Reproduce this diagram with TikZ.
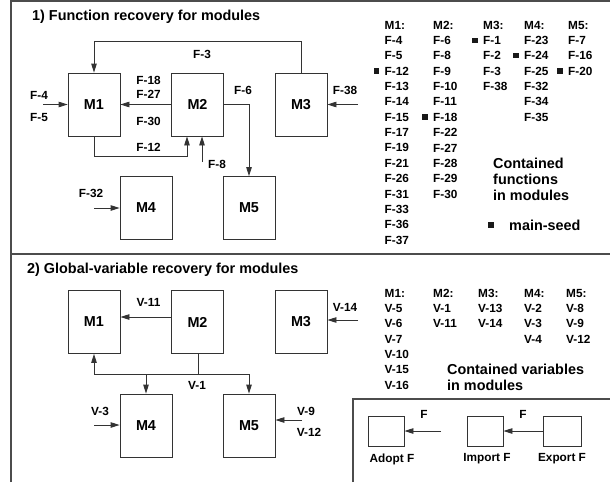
\documentclass[tikz,border=0pt]{standalone}
\usepackage{fontspec}
\setmainfont{Liberation Sans}
\usepackage{tikz}
\usetikzlibrary{arrows.meta,positioning,calc}

\begin{document}
\begin{tikzpicture}[x=1pt, y=-1pt, >={Triangle[length=9pt,width=5.5pt]},
  module/.style={draw=black!80, line width=0.8pt, minimum width=52pt, minimum height=63pt,
    inner sep=0pt, font=\fontsize{14.4}{16}\selectfont\bfseries},
  small/.style={draw=black!80, line width=0.8pt, minimum width=36pt, minimum height=30pt, inner sep=0pt},
  lbl/.style={font=\fontsize{11.8}{14}\selectfont\bfseries, inner sep=0pt},
  lst/.style={lbl, anchor=west},
  big/.style={font=\fontsize{14.4}{16}\selectfont\bfseries, inner sep=0pt},
  link/.style={draw=black!80, line width=0.8pt},
  frame/.style={draw=black!70, line width=1.3pt},
  seed/.style={fill=black!90, minimum size=5.5pt, inner sep=0pt}]
  \useasboundingbox (0,0) rectangle (610,482);

  % frame
  \draw[frame] (11,482) -- (11,1) -- (610,1);
  \draw[frame] (11,254) -- (610,254);
  \draw[frame] (353,482) -- (353,399) -- (610,399);

  % ---------- 1) functions ----------
  \node[big, anchor=west] (t1) at (32,17) {1) Function recovery for modules};

  \node[module] (fm1) at (94,104.5) {M1};
  \node[module] (fm2) at (197.5,104.5) {M2};
  \node[module] (fm3) at (301,104.5) {M3};
  \node[module] (fm4) at (146,208) {M4};
  \node[module] (fm5) at (249,208) {M5};

  \coordinate (f4) at (43,104.5);
  \coordinate (f8) at (202,162);
  \coordinate (f32) at (94,208);
  \coordinate (f38) at (358,104.5);

  \draw[link,->] (fm3.north) -- ++(0,-31) -| (fm1.north);
  \draw[link,->] (f4) -- (fm1.west);
  \draw[link,->] (fm2.west) -- (fm1.east);
  \draw[link,->] (fm1.south) -- ++(0,20) -| ([xshift=-10.5pt]fm2.south);
  \draw[link,->] (f8) -- (f8 |- fm2.south);
  \draw[link,->] (fm2.east) -| (fm5.north);
  \draw[link,->] (f32) -- (fm4.west);
  \draw[link,->] (f38) -- (fm3.east);

  \node[lbl] (lf3) at (202,54) {F-3};
  \node[lbl] (lf4) at (39,95) {F-4};
  \node[lbl] (lf5) at (39,117) {F-5};
  \node[lbl] (lf18) at (148.5,80) {F-18};
  \node[lbl] (lf27) at (148.5,94) {F-27};
  \node[lbl] (lf30) at (148.5,121) {F-30};
  \node[lbl] (lf12) at (148.5,147) {F-12};
  \node[lbl] (lf8) at (217,164) {F-8};
  \node[lbl] (lf6) at (243,90) {F-6};
  \node[lbl] (lf32) at (91,193) {F-32};
  \node[lbl] (lf38) at (345,90) {F-38};

  % contained functions
  \foreach \t [count=\i from 0] in {M1:,F-4,F-5,F-12,F-13,F-14,F-15,F-17,F-19,F-21,F-26,F-31,F-33,F-36,F-37}
    \node[lst] (fa\i) at (384.5,25+15.36*\i) {\t};
  \foreach \t [count=\i from 0] in {M2:,F-6,F-8,F-9,F-10,F-11,F-18,F-22,F-27,F-28,F-29,F-30}
    \node[lst] (fb\i) at (433,25+15.36*\i) {\t};
  \foreach \t [count=\i from 0] in {M3:,F-1,F-2,F-3,F-38}
    \node[lst] (fc\i) at (483,25+15.36*\i) {\t};
  \foreach \t [count=\i from 0] in {M4:,F-23,F-24,F-25,F-32,F-34,F-35}
    \node[lst] (fd\i) at (524,25+15.36*\i) {\t};
  \foreach \t [count=\i from 0] in {M5:,F-7,F-16,F-20}
    \node[lst] (fe\i) at (568,25+15.36*\i) {\t};

  \node[seed, left=5pt of fa3] (s1) {};
  \node[seed, left=5pt of fb6] (s2) {};
  \node[seed, left=5pt of fc1] (s3) {};
  \node[seed, left=5pt of fd2] (s4) {};
  \node[seed, left=5pt of fe3] (s5) {};

  \node[big, anchor=west, align=left] (cf) at (493,179) {Contained\\functions\\in modules};
  \node[seed] (sm) at (491,225) {};
  \node[big, anchor=west] (lms) at (509,225) {main-seed};

  % ---------- 2) variables ----------
  \node[big, anchor=west] (t2) at (27,270) {2) Global-variable recovery for modules};

  \node[module] (vm1) at (94,322) {M1};
  \node[module] (vm2) at (197.5,322) {M2};
  \node[module] (vm3) at (301,322) {M3};
  \node[module] (vm4) at (146,425.5) {M4};
  \node[module] (vm5) at (249,425.5) {M5};

  \coordinate (vj) at (198,374);
  \coordinate (v3) at (94,425);
  \coordinate (v9) at (302,420);
  \coordinate (v14) at (358,320);

  \draw[link,->] ([yshift=5pt]vm2.west) -- ([yshift=5pt]vm1.east);
  \draw[link] (vj |- vm2.south) -- (vj);
  \draw[link,->] (vj) -| (vm1.south);
  \draw[link,->] (vj) -| (vm5.north);
  \draw[link,->] (vm4.north |- vj) -- (vm4.north);
  \draw[link,->] (v3) -- (v3 -| vm4.west);
  \draw[link,->] (v9) -- (v9 -| vm5.east);
  \draw[link,->] (v14) -- (v14 -| vm3.east);

  \node[lbl] (lv11) at (148.5,302) {V-11};
  \node[lbl] (lv1) at (197,385) {V-1};
  \node[lbl] (lv3) at (100,411) {V-3};
  \node[lbl] (lv9) at (306,411) {V-9};
  \node[lbl] (lv12) at (309,432) {V-12};
  \node[lbl] (lv14) at (345,307) {V-14};

  % contained variables
  \foreach \t [count=\i from 0] in {M1:,V-5,V-6,V-7,V-10,V-15,V-16}
    \node[lst] (va\i) at (384.5,293+15.36*\i) {\t};
  \foreach \t [count=\i from 0] in {M2:,V-1,V-11}
    \node[lst] (vb\i) at (433,293+15.36*\i) {\t};
  \foreach \t [count=\i from 0] in {M3:,V-13,V-14}
    \node[lst] (vc\i) at (478,293+15.36*\i) {\t};
  \foreach \t [count=\i from 0] in {M4:,V-2,V-3,V-4}
    \node[lst] (vd\i) at (524,293+15.36*\i) {\t};
  \foreach \t [count=\i from 0] in {M5:,V-8,V-9,V-12}
    \node[lst] (ve\i) at (566,293+15.36*\i) {\t};

  \node[big, anchor=west, align=left] (cv) at (447,377) {Contained variables\\in modules};

  % legend
  \node[small] (adopt) at (386,431) {};
  \node[small] (import) at (485,431) {};
  \node[small, minimum width=38pt] (export) at (562,431) {};
  \coordinate (fin) at (441,431);
  \draw[link,->] (fin) -- (adopt.east);
  \draw[link,->] (export.west) -- (import.east);
  \node[lbl] (la) at (424,414) {F};
  \node[lbl] (li) at (523,414) {F};
  \node[lbl] (ladopt) at (392,459) {Adopt F};
  \node[lbl] (limport) at (487,459) {Import F};
  \node[lbl] (lexport) at (562,459) {Export F};
\end{tikzpicture}
\end{document}
